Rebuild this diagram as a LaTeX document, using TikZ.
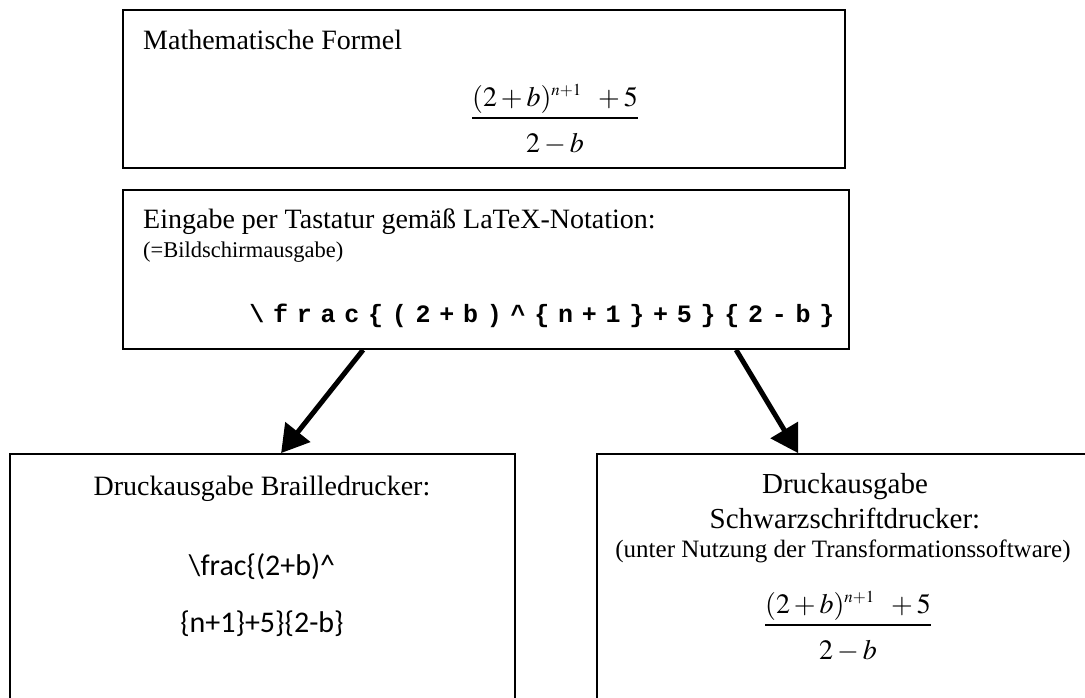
\documentclass[tikz,border=0pt]{standalone}
\usepackage{mathptmx}
\usepackage{fontspec}
\setmainfont{Liberation Serif}
\newfontfamily\eingabefont[LetterSpace=35]{Liberation Mono}
\newfontfamily\braillefont{Carlito}
\usetikzlibrary{arrows.meta,positioning}
\newcommand{\formelbruch}{$\displaystyle\frac{(2+b)^{\scriptscriptstyle n+1}\;\;+5}{\rule{0pt}{31pt}2-b}$}

\begin{document}
\begin{tikzpicture}[x=1pt,y=-1pt,font=\fontsize{28}{34}\selectfont]
  \tikzstyle{box}=[draw,line width=1.8pt,inner sep=0pt]
  \tikzstyle{txt}=[inner sep=0pt]
  \tikzstyle{gross}=[txt,font=\fontsize{29}{35}\selectfont]
  \tikzstyle{klein}=[txt,font=\fontsize{22.5}{27}\selectfont]
  \tikzstyle{pfeil}=[line width=5pt,-{Triangle[length=27pt,width=31pt]}]
  \useasboundingbox (0,0) rectangle (1085,698);
  \clip (0,0) rectangle (1085,698);
  % boxes
  \node[box,minimum width=722pt,minimum height=158pt] (formel) at (484,89) {};
  \node[box,minimum width=726pt,minimum height=159pt] (eingabe) at (486,269.5) {};
  \node[box,minimum width=505pt,minimum height=266pt] (braille) at (262.5,587) {};
  \node[box,minimum width=493pt,minimum height=266pt] (schwarz) at (843.5,587) {};
  % top
  \node[txt,anchor=base west] (titel) at (143,50) {Mathematische Formel};
  \node[txt,anchor=base] (bruch1) at (555,125) {\formelbruch};
  % middle
  \node[txt,anchor=base west] (eingabetxt) at (143,228) {Eingabe per Tastatur gemäß LaTeX-Notation:};
  \node[klein,anchor=base west] (bildschirm) at (143,257) {(=Bildschirmausgabe)};
  \node[txt,anchor=base] (latexcode) at (542,322)
    {\fontsize{25}{30}\eingabefont\bfseries \textbackslash frac\{(2+b)\textasciicircum\{n+1\}+5\}\{2-b\}};
  % bottom left
  \node[txt,anchor=base] (brailletxt) at (262,495) {Druckausgabe Brailledrucker:};
  \node[txt,anchor=base,font=\fontsize{30}{36}\braillefont] (zeile1) at (262,575) {\textbackslash frac\{(2+b)\textasciicircum};
  \node[txt,anchor=base,font=\fontsize{30}{36}\braillefont] (zeile2) at (262,632) {\{n+1\}+5\}\{2-b\}};
  % bottom right
  \node[gross,anchor=base] (schwarztxt1) at (845,493) {Druckausgabe};
  \node[gross,anchor=base] (schwarztxt2) at (845,528) {Schwarzschriftdrucker:};
  \node[txt,anchor=base,font=\fontsize{25}{30}\selectfont] (software) at (843,557) {(unter Nutzung der Transformationssoftware)};
  \node[txt,anchor=base] (bruch2) at (848,632) {\formelbruch};
  % arrows
  \path[pfeil]
  ([xshift=241pt]eingabe.south west) edge ([xshift=272pt]braille.north west)
  ([xshift=614pt]eingabe.south west) edge ([xshift=202pt]schwarz.north west)
  ;
\end{tikzpicture}
\end{document}
